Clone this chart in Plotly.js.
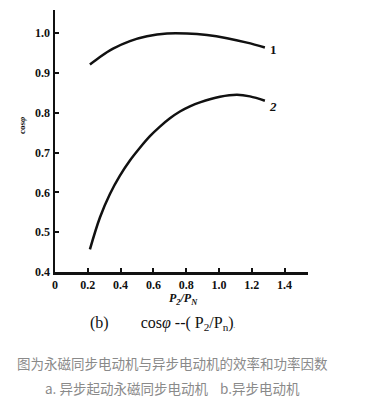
<!DOCTYPE html>
<html><head><meta charset="utf-8">
<script src="https://cdn.plot.ly/plotly-3.0.1.min.js"></script>
<style>body{margin:0;background:#fff}#c{width:369px;height:417px}</style>
</head><body><div id="c"></div>
<script>
const x1 = [0.213, 0.274, 0.354, 0.457, 0.561, 0.683, 0.805, 0.927, 1.049, 1.171, 1.28];
const y1 = [0.921, 0.940, 0.961, 0.980, 0.992, 0.999, 0.999, 0.995, 0.987, 0.976, 0.964];
const x2 = [0.213, 0.274, 0.335, 0.396, 0.457, 0.518, 0.579, 0.640, 0.701, 0.762, 0.823, 0.884, 1.006, 1.110, 1.189, 1.28];
const y2 = [0.457, 0.537, 0.596, 0.642, 0.680, 0.712, 0.741, 0.765, 0.786, 0.803, 0.816, 0.826, 0.840, 0.845, 0.841, 0.830];
const xTicks = [0, 0.2, 0.4, 0.6, 0.8, 1.0, 1.2, 1.4];
const xTickText = ["0", "0.2", "0.4", "0.6", "0.8", "1.0", "1.2", "1.4"];
const yTicks = [0.4, 0.5, 0.6, 0.7, 0.8, 0.9, 1.0];
const yTickText = ["0.4", "0.5", "0.6", "0.7", "0.8", "0.9", "1.0"];
const curveLabels = ["1", "2"];

const serif = "Liberation Serif";
const line = {color: "#111", width: 2.5, shape: "spline", smoothing: 1};
const traces = [
  {x: x1, y: y1, mode: "lines", line: line, hoverinfo: "none"},
  {x: x2, y: y2, mode: "lines", line: line, hoverinfo: "none"}
];
const py = p => (272 - p) / 262;
const px = p => (p - 55) / 253;
const layout = {
  width: 369, height: 417,
  margin: {l: 55, r: 61, t: 10, b: 145},
  showlegend: false,
  paper_bgcolor: "#fff", plot_bgcolor: "#fff",
  font: {family: serif, color: "#111"},
  xaxis: {range: [0, 1.543], tickvals: xTicks, ticktext: xTickText,
    showline: true, linewidth: 2.5, linecolor: "#111", ticks: "inside", ticklen: 4, tickwidth: 2, tickcolor: "#111",
    showgrid: false, zeroline: false, tickfont: {family: serif, size: 12, color: "#111", weight: "bold"}},
  yaxis: {range: [0.4, 1.058], tickvals: yTicks, ticktext: yTickText,
    showline: true, linewidth: 2.5, linecolor: "#111", ticks: "inside", ticklen: 4, tickwidth: 2, tickcolor: "#111",
    showgrid: false, zeroline: false, tickfont: {family: serif, size: 12, color: "#111", weight: "bold"}},
  annotations: [
    {x: 1.335, y: 0.958, xref: "x", yref: "y", text: "<b>" + curveLabels[0] + "</b>", showarrow: false, font: {family: serif, size: 13}},
    {x: 1.33, y: 0.816, xref: "x", yref: "y", text: "<b><i>" + curveLabels[1] + "</i></b>", showarrow: false, font: {family: serif, size: 13}},
    {x: px(15), y: py(126), xref: "paper", yref: "paper", text: "<b>cos<i>φ</i></b>", textangle: -90, showarrow: false, font: {family: serif, size: 9}},
    {x: px(183), y: py(309), xref: "paper", yref: "paper", text: "<b><i>P<sub>2</sub>/P<sub>N</sub></i></b>", showarrow: false, font: {family: serif, size: 12}},
    {x: px(88), y: py(335), xref: "paper", yref: "paper", xanchor: "left", text: "(b)        cos<i>φ</i> --( P<sub>2</sub>/P<sub>n</sub>)<span style='font-size:6px'>.</span>", showarrow: false, font: {family: serif, size: 16, color: "#111"}},
    {x: px(172), y: py(375), xref: "paper", yref: "paper", text: "图为永磁同步电动机与异步电动机的效率和功率因数", showarrow: false, font: {family: "Noto Sans CJK SC", size: 13.5, color: "#8a8a8a"}},
    {x: px(172), y: py(400), xref: "paper", yref: "paper", text: "a. 异步起动永磁同步电动机    b.异步电动机", showarrow: false, font: {family: "Noto Sans CJK SC", size: 13.5, color: "#8a8a8a"}}
  ]
};
Plotly.newPlot("c", traces, layout, {staticPlot: true, displayModeBar: false});
</script></body></html>
